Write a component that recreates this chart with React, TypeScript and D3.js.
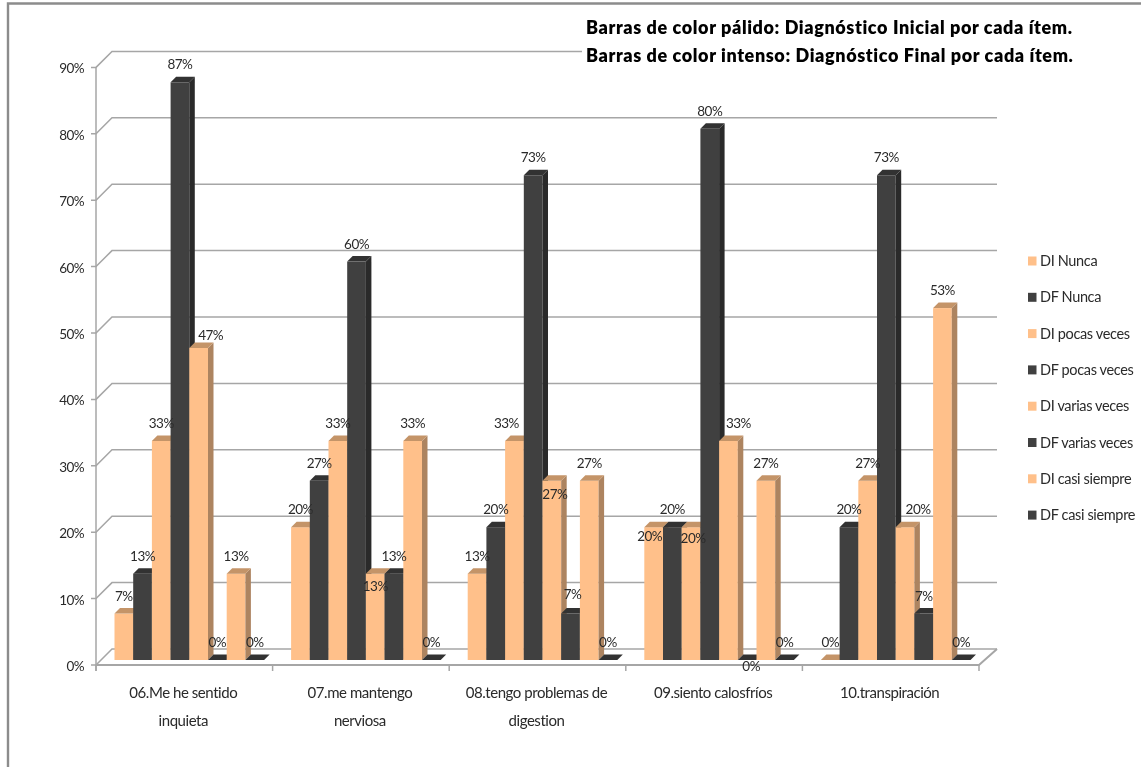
import React from "react";
import * as d3 from "d3";

const categories: string[][] = [
  ["06.Me he sentido", "inquieta"],
  ["07.me mantengo", "nerviosa"],
  ["08.tengo problemas de", "digestion"],
  ["09.siento calosfríos"],
  ["10.transpiración"],
];
const seriesNames = [
  "DI Nunca", "DF Nunca", "DI pocas veces", "DF pocas veces",
  "DI varias veces", "DF varias veces", "DI casi siempre", "DF casi siempre",
];
const diNunca = [7, 20, 13, 20, 0];
const dfNunca = [13, 27, 20, 20, 20];
const diPocas = [33, 33, 33, 20, 27];
const dfPocas = [87, 60, 73, 80, 73];
const diVarias = [47, 13, 27, 33, 20];
const dfVarias = [0, 13, 7, 0, 7];
const diCasi = [13, 33, 27, 27, 53];
const dfCasi = [0, 0, 0, 0, 0];
const seriesValues = [diNunca, dfNunca, diPocas, dfPocas, diVarias, dfVarias, diCasi, dfCasi];
const yTicks = [0, 10, 20, 30, 40, 50, 60, 70, 80, 90];
const titleLines = [
  "Barras de color pálido: Diagnóstico Inicial por cada ítem.",
  "Barras de color intenso: Diagnóstico Final por cada ítem.",
];

// label nudges, keyed "category-series" -> [dx, dy]
const labelNudges: Record<string, [number, number]> = {
  "0-4": [12, 5],
  "1-4": [0, 30],
  "2-2": [-8, 0],
  "2-4": [3, 31],
  "2-5": [2, -2],
  "3-0": [-4, 27],
  "3-2": [2, 29],
  "3-4": [10, 0],
  "3-5": [4, 24],
  "4-4": [13, 0],
};

const FONT = "Lato, 'Open Sans', sans-serif";
const LIGHT = { front: "#FFC08A", side: "#AD8460", top: "#C49468" };
const DARK = { front: "#404040", side: "#2B2B2B", top: "#333333" };
const GRID = "#A6A6A6";
const TEXT = "#2A2A2A";

const AX_L = 96, AX_R = 979, FLOOR_Y = 665, BASE_Y = 660;
const DX_WALL = 16, DY_WALL = 16;
const BAR_DX = 5.5, BAR_DY = 5.5;

const x0 = d3.scaleBand<number>().domain(d3.range(5)).range([AX_L, AX_R]);
const x1 = d3.scaleBand<number>().domain(d3.range(8)).range([18.5, 18.5 + 8 * 18.7]);
const y = d3.scaleLinear().domain([0, 90]).range([FLOOR_Y, FLOOR_Y - 597.6]);
const h = d3.scaleLinear().domain([0, 90]).range([0, 597.6]);

const pts = (a: number[][]) => a.map((p) => p.join(",")).join(" ");

export default function App() {
  const w = x1.bandwidth();
  return (
    <svg
      width={1141}
      height={767}
      style={{ position: "absolute", left: 0, top: 0, background: "#fff" }}
    >
      <defs>
        <filter id="soft" x="-2%" y="-2%" width="104%" height="104%">
          <feGaussianBlur stdDeviation="0.45" />
        </filter>
      </defs>
      <g filter="url(#soft)">
        <path d="M8,767 V3.5 H1141" fill="none" stroke="#8C8C8C" strokeWidth={2.4} />

        {/* walls, gridlines */}
        {yTicks.map((t) => (
          <g key={t} fill="none" stroke={GRID} strokeWidth={1.5}>
            <path
              d={`M${AX_L - 5},${y(t)} H${AX_L} L${AX_L + DX_WALL},${y(t) - DY_WALL} H${AX_R + 18}`}
            />
          </g>
        ))}
        <path d={`M${AX_L},${y(90)} V${FLOOR_Y + 6}`} fill="none" stroke={GRID} strokeWidth={1.5} />
        <path
          d={`M${AX_L},${FLOOR_Y} H${AX_R} L${AX_R + 18},${FLOOR_Y - DY_WALL}`}
          fill="none"
          stroke={GRID}
          strokeWidth={2}
        />
        {d3.range(6).map((i) => {
          const tx = i < 5 ? x0(i)! : AX_R;
          return <line key={i} x1={tx} x2={tx} y1={FLOOR_Y} y2={FLOOR_Y + 6} stroke={GRID} strokeWidth={1.5} />;
        })}

        {/* white plate behind the note */}
        <rect x={582} y={14} width={559} height={58} fill="#fff" />

        {/* bars */}
        {categories.map((_, c) =>
          seriesNames.map((_, s) => {
            const v = seriesValues[s][c];
            const col = s % 2 === 0 ? LIGHT : DARK;
            const x = x0(c)! + x1(s)!;
            const top = BASE_Y - h(v);
            return (
              <g key={`${c}-${s}`}>
                <rect x={x} y={top} width={w} height={h(v)} fill={col.front} />
                <polygon
                  points={pts([
                    [x + w, top],
                    [x + w + BAR_DX, top - BAR_DY],
                    [x + w + BAR_DX, BASE_Y - BAR_DY],
                    [x + w, BASE_Y],
                  ])}
                  fill={col.side}
                />
                <polygon
                  points={pts([
                    [x, top],
                    [x + w, top],
                    [x + w + BAR_DX, top - BAR_DY],
                    [x + BAR_DX, top - BAR_DY],
                  ])}
                  fill={col.top}
                />
              </g>
            );
          })
        )}

        {/* value labels */}
        {categories.map((_, c) =>
          seriesNames.map((_, s) => {
            const v = seriesValues[s][c];
            const n = labelNudges[`${c}-${s}`] ?? [0, 0];
            return (
              <text
                key={`l${c}-${s}`}
                x={x0(c)! + x1(s)! + w / 2 + n[0]}
                y={BASE_Y - h(v) - 13 + n[1]}
                textAnchor="middle"
                fontFamily={FONT}
                fontSize={13.5}
                letterSpacing={-0.5}
                fill={TEXT}
              >
                {v}%
              </text>
            );
          })
        )}

        {/* y tick labels */}
        {yTicks.map((t) => (
          <text
            key={t}
            x={84}
            y={y(t) + 6}
            textAnchor="end"
            fontFamily={FONT}
            fontSize={13.5}
            letterSpacing={-0.6}
            fill={TEXT}
          >
            {t}%
          </text>
        ))}

        {/* category labels */}
        {categories.map((lines, c) =>
          lines.map((ln, i) => (
            <text
              key={`c${c}-${i}`}
              x={x0(c)! + x0.bandwidth() / 2 - 1}
              y={698 + i * 27.5}
              textAnchor="middle"
              fontFamily={FONT}
              fontSize={15}
              letterSpacing={-0.45}
              fill={TEXT}
            >
              {ln}
            </text>
          ))
        )}

        {/* legend */}
        {seriesNames.map((name, s) => {
          const ly = 261 + s * 36.3;
          return (
            <g key={name}>
              <rect
                x={1028}
                y={ly - 4.5}
                width={8.5}
                height={9}
                fill={s % 2 === 0 ? LIGHT.front : DARK.front}
              />
              <text x={1040} y={ly + 5} fontFamily={FONT} fontSize={14.5} letterSpacing={-0.35} fill={TEXT}>
                {name}
              </text>
            </g>
          );
        })}

        {/* note */}
        {titleLines.map((ln, i) => (
          <text
            key={i}
            x={586}
            y={33.5 + i * 28.5}
            fontFamily={FONT}
            fontSize={18}
            fontWeight={800}
            letterSpacing={0.6}
            fill="#000"
          >
            {ln}
          </text>
        ))}
      </g>
    </svg>
  );
}
